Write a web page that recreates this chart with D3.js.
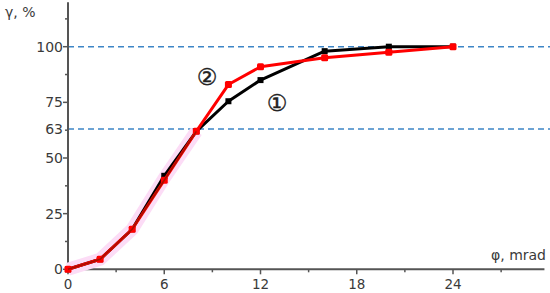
<!DOCTYPE html>
<html><head><meta charset="utf-8">
<script src="https://cdn.jsdelivr.net/npm/d3@7"></script>
<style>body{margin:0;background:#fff}svg{display:block}text{font-family:"DejaVu Sans",Verdana,sans-serif}</style>
</head><body><svg id="c" width="550" height="293"></svg>
<script>
const xVals = [0, 2, 4, 6, 8, 10, 12, 16, 20, 24];
const series1 = [0, 4.5, 18, 42, 62, 75.5, 85, 98, 100, 100];
const series2 = [0, 4.5, 18, 40, 62, 83, 91, 95, 97.5, 100];
const xTicks = [0, 6, 12, 18, 24];
const xMinor = [3, 9, 15, 21, 27];
const yTicks = [0, 25, 50, 75, 100];
const yMinor = [12.5, 37.5, 62.5, 87.5, 112.5];
const refLines = [100, 63];
const labels = [{t:"②", x:8.67, y:86.4}, {t:"①", x:13.03, y:74.7}];

const svg = d3.select("#c");
const x = d3.scaleLinear().domain([0, 24]).range([68, 453]);
const y = d3.scaleLinear().domain([0, 100]).range([269.3, 46.7]);
const axisCol = "#555";
const txtCol = "#3a3a3a";

svg.selectAll(".ref").data(refLines).join("line")
  .attr("x1", x(0)).attr("x2", 550).attr("y1", d => y(d)).attr("y2", d => y(d))
  .attr("stroke", "#3d85c6").attr("stroke-width", 1.5).attr("stroke-dasharray", "6,4");

svg.append("line").attr("x1", x(0)).attr("x2", x(29.7)).attr("y1", y(0)).attr("y2", y(0))
  .attr("stroke", axisCol).attr("stroke-width", 2);
svg.append("line").attr("x1", x(0)).attr("x2", x(0)).attr("y1", y(0)).attr("y2", y(120))
  .attr("stroke", axisCol).attr("stroke-width", 2);

svg.selectAll(".xt").data(xTicks).join("line")
  .attr("x1", d => x(d)).attr("x2", d => x(d)).attr("y1", y(0)).attr("y2", y(0) + 5)
  .attr("stroke", axisCol).attr("stroke-width", 1.5);
svg.selectAll(".xm").data(xMinor).join("line")
  .attr("x1", d => x(d)).attr("x2", d => x(d)).attr("y1", y(0)).attr("y2", y(0) + 3)
  .attr("stroke", axisCol).attr("stroke-width", 1.5);
svg.selectAll(".yt").data(yTicks).join("line")
  .attr("x1", x(0) - 5).attr("x2", x(0)).attr("y1", d => y(d)).attr("y2", d => y(d))
  .attr("stroke", axisCol).attr("stroke-width", 1.5);
svg.selectAll(".ym").data(yMinor).join("line")
  .attr("x1", x(0) - 3).attr("x2", x(0)).attr("y1", d => y(d)).attr("y2", d => y(d))
  .attr("stroke", axisCol).attr("stroke-width", 1.5);

svg.selectAll(".xl").data(xTicks).join("text")
  .attr("x", d => x(d)).attr("y", 289).attr("text-anchor", "middle")
  .attr("font-size", 13.5).attr("fill", txtCol).text(d => d);
svg.selectAll(".yl").data(yTicks.concat([63])).join("text")
  .attr("x", x(0) - 5).attr("y", d => y(d) + 5).attr("text-anchor", "end")
  .attr("font-size", 14).attr("fill", txtCol).text(d => d);

svg.append("text").attr("x", 5).attr("y", 17).attr("font-size", 14).attr("fill", txtCol).text("γ, %");
svg.append("text").attr("x", 546).attr("y", 260).attr("text-anchor", "end").attr("font-size", 14).attr("fill", txtCol).text("φ, mrad");

const low = xVals.map((v, i) => [v, (series1[i] + series2[i]) / 2]).filter(d => d[0] <= 8);
svg.append("path").datum(low)
  .attr("d", d3.line().x(d => x(d[0])).y(d => y(d[1])))
  .attr("fill", "none").attr("stroke", "#fcdcf6").attr("stroke-width", 13);

const line = d3.line().x(d => x(d[0])).y(d => y(d[1]));
function draw(vals, col, size) {
  const pts = xVals.map((v, i) => [v, vals[i]]);
  svg.append("path").datum(pts).attr("d", line).attr("fill", "none")
    .attr("stroke", col).attr("stroke-width", 3).attr("stroke-linejoin", "round");
  svg.append("g").selectAll("rect").data(pts).join("rect")
    .attr("x", d => x(d[0]) - size / 2).attr("y", d => y(d[1]) - size / 2)
    .attr("width", size).attr("height", size).attr("rx", col === "#ff0000" ? 1.5 : 0)
    .attr("fill", col);
}
draw(series1, "#000", 6);
draw(series2, "#ff0000", 7);

svg.append("path").datum(xVals.map((v, i) => [v, series2[i]]).filter(d => d[0] <= 8))
  .attr("d", line).attr("fill", "none").attr("stroke", "#6b1a00").attr("stroke-width", 1.5).attr("opacity", 0.6);

svg.selectAll(".lab").data(labels).join("text")
  .attr("x", d => x(d.x)).attr("y", d => y(d.y)).attr("text-anchor", "middle")
  .attr("dominant-baseline", "central")
  .attr("font-size", 23).attr("fill", "#222").attr("stroke", "#222").attr("stroke-width", 0.4).text(d => d.t);
</script></body></html>
